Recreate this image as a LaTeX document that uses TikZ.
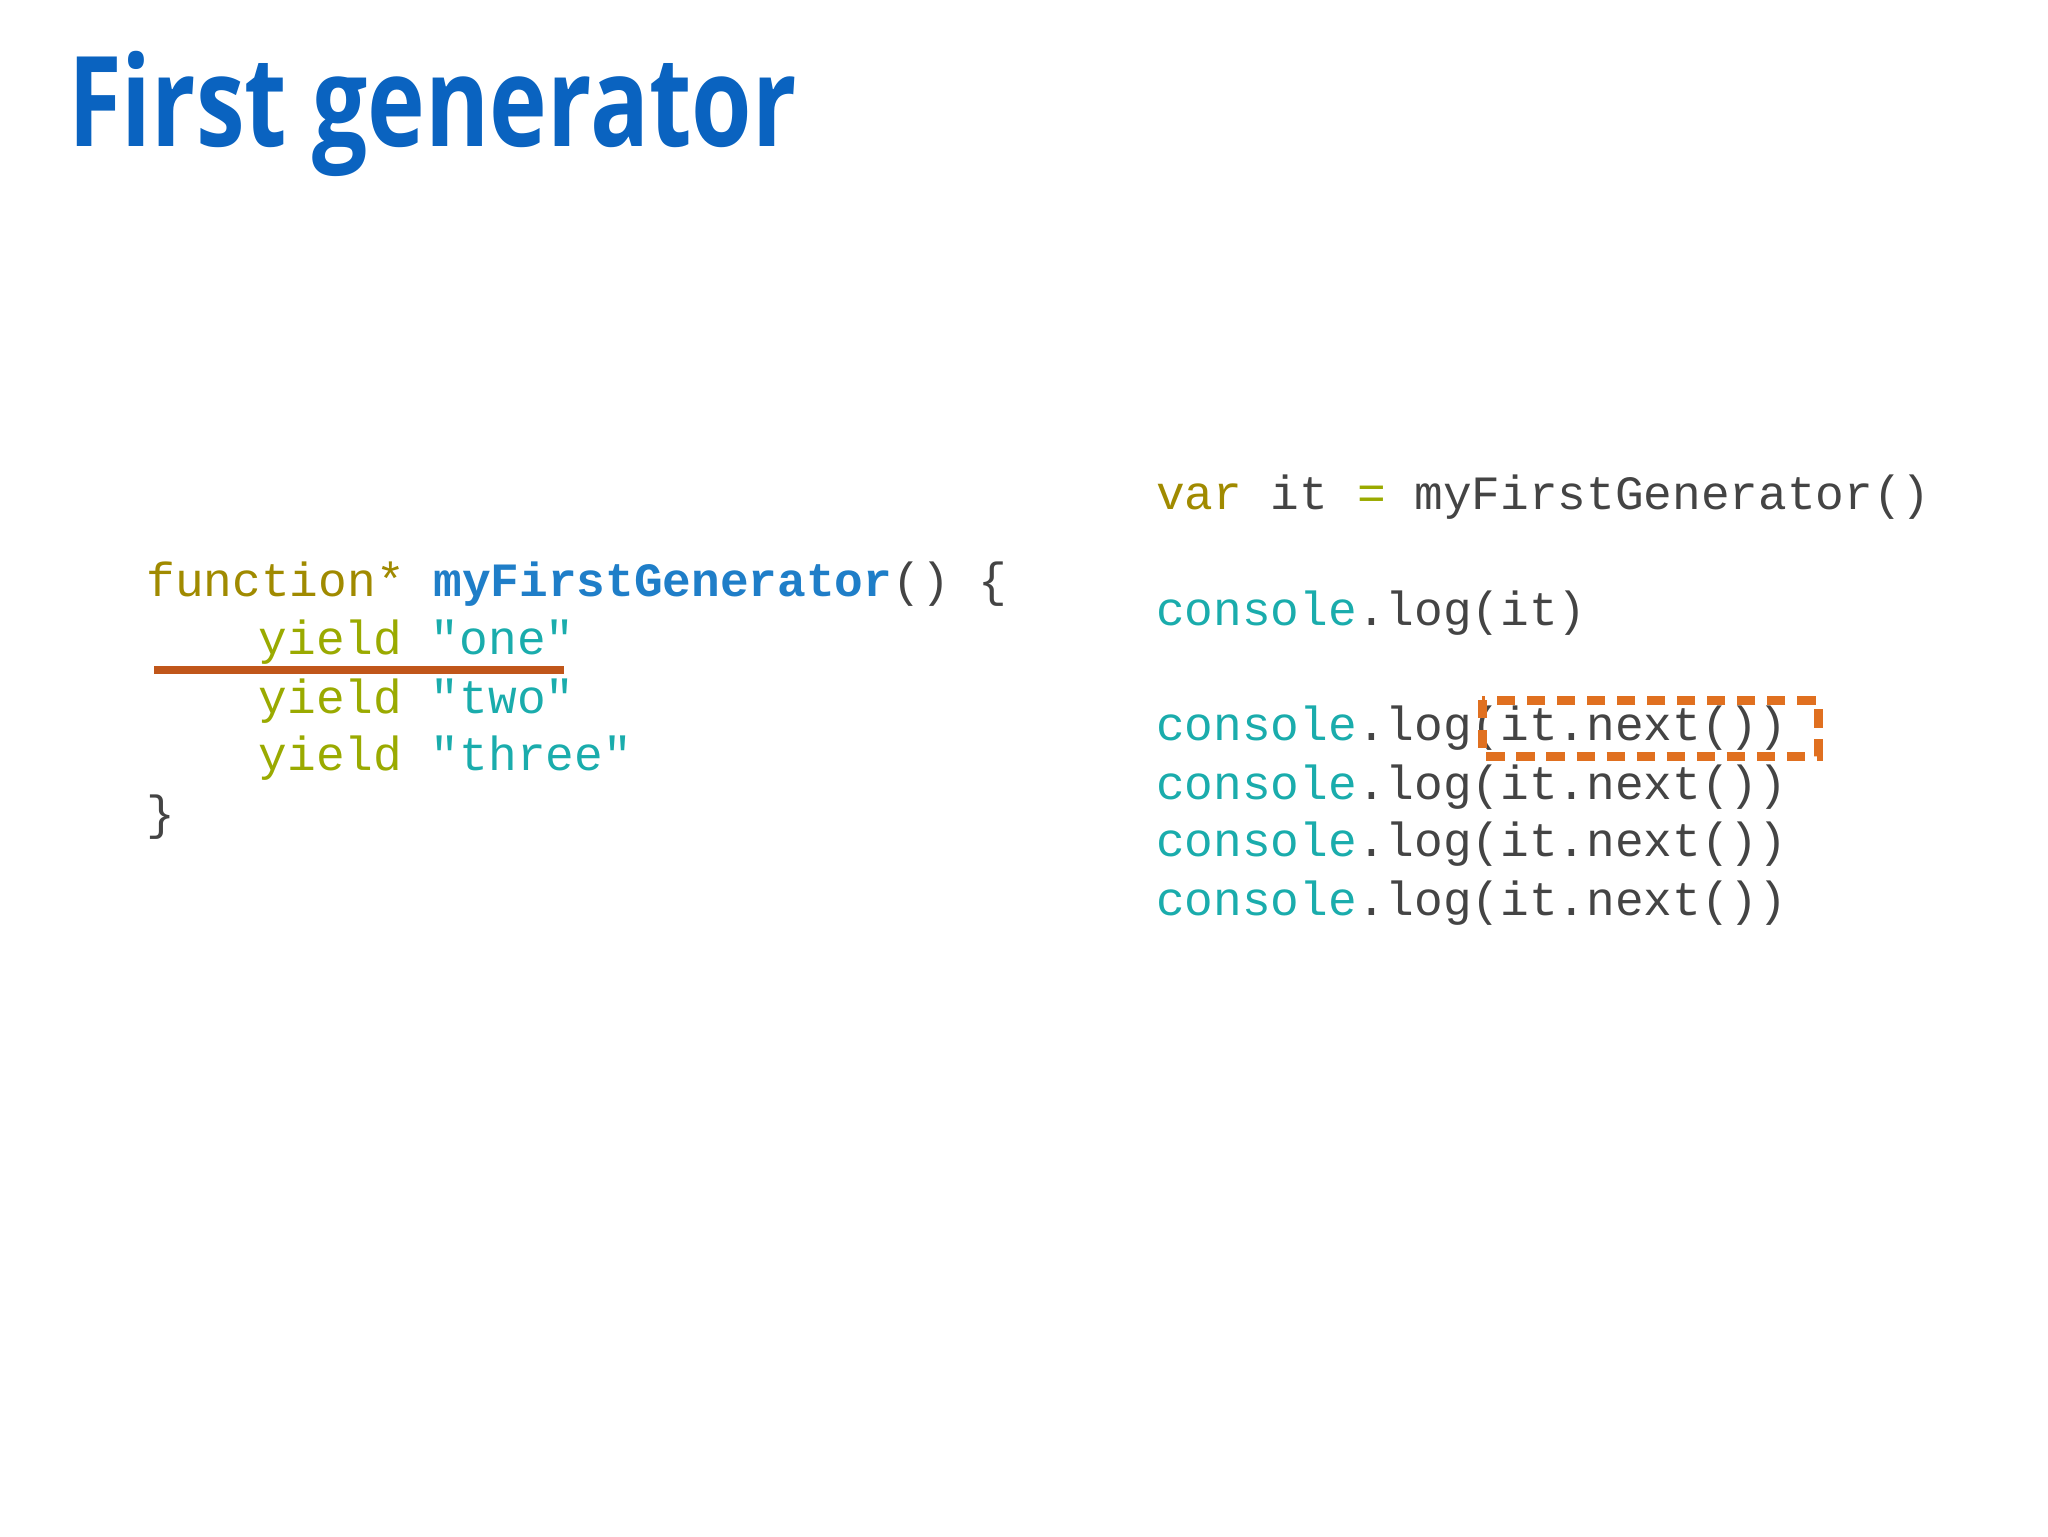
\documentclass[tikz,border=0pt]{standalone}
\usepackage{fontspec}
\setmonofont{Liberation Mono}
\newfontfamily\titlefont[FakeStretch=0.78]{Open Sans}
\definecolor{kw}{HTML}{A08A00}
\definecolor{yl}{HTML}{9AAA00}
\definecolor{st}{HTML}{1AACAC}
\definecolor{fn}{HTML}{1F7EC8}
\definecolor{tx}{HTML}{444444}
\definecolor{ttl}{HTML}{0A63C0}
\definecolor{ul}{HTML}{C0561A}
\definecolor{db}{HTML}{E07020}
\tikzset{code/.style={anchor=base west,inner sep=0pt,font=\ttfamily\fontsize{36.6}{40}\selectfont,text=tx}}
\begin{document}
\begin{tikzpicture}[x=1pt,y=-1pt]
\useasboundingbox (0,0) rectangle (1568,1176);
\node[anchor=base west,inner sep=0pt,text=ttl,font=\titlefont\bfseries\fontsize{96}{100}\selectfont] (title) at (52,112) {First generator};
\node[code] (l1) at (112,457) {\textcolor{kw}{function*} \textcolor{fn}{\bfseries myFirstGenerator}() \{};
\node[code] (l2) at (198,501) {\textcolor{yl}{yield} \textcolor{st}{"one"}};
\node[code] (l3) at (198,546) {\textcolor{yl}{yield} \textcolor{st}{"two"}};
\node[code] (l4) at (198,590) {\textcolor{yl}{yield} \textcolor{st}{"three"}};
\node[code] (l5) at (112,635) {\}};
\node[code] (r1) at (885,390) {\textcolor{kw}{var} it \textcolor{yl}{=} myFirstGenerator()};
\node[code] (r2) at (885,479) {\textcolor{st}{console}.log(it)};
\node[code] (r3) at (885,567) {\textcolor{st}{console}.log(it.next())};
\node[code] (r4) at (885,612) {\textcolor{st}{console}.log(it.next())};
\node[code] (r5) at (885,656) {\textcolor{st}{console}.log(it.next())};
\node[code] (r6) at (885,701) {\textcolor{st}{console}.log(it.next())};
\coordinate (u1) at (118,513); \coordinate (u2) at (432,513);
\draw[ul,line width=6pt] (u1) -- (u2);
\coordinate (b1) at (1135,536); \coordinate (b2) at (1392,579);
\draw[db,line width=7pt,dash pattern=on 14pt off 9pt] (b1) rectangle (b2);
\end{tikzpicture}
\end{document}
